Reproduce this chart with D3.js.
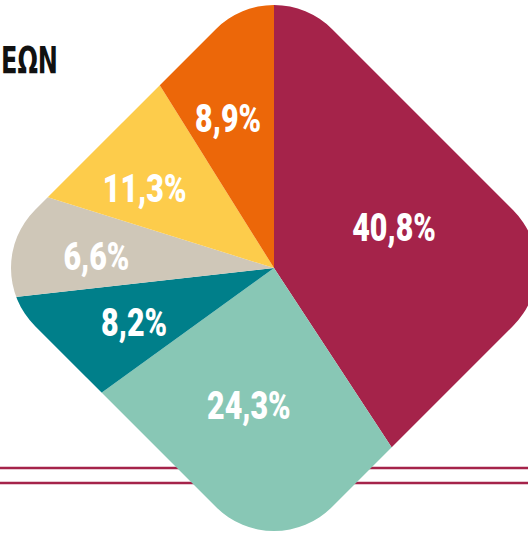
<!DOCTYPE html>
<html>
<head>
<meta charset="utf-8">
<script src="https://cdn.jsdelivr.net/npm/d3@7"></script>
<style>
  html, body { margin: 0; padding: 0; background: #fff; }
  svg { display: block; }
</style>
</head>
<body>
<div id="chart"></div>
<script>
// data
const categories = ["A", "B", "C", "D", "E", "F"];
const shares = [40.8, 24.3, 8.2, 6.6, 11.3, 8.9];
const labels = ["40,8%", "24,3%", "8,2%", "6,6%", "11,3%", "8,9%"];
const colors = ["#A5234A", "#88C7B5", "#007F8A", "#CFC7B8", "#FDCC4B", "#EC6709"];

// label placement per slice (layout only): distance from centre, angle nudge in degrees
const labelRadius = [127, 139, 150, 178, 152, 157];
const labelNudge = [-2.4, 0, 0, -1.6, -6, -1];

const width = 528;
const height = 534;
const cx = 274, cy = 268;
const half = 210;     // half side of the rounded square
const corner = 82;

const svg = d3.select("#chart")
  .append("svg")
  .attr("width", width)
  .attr("height", height);

// the two rules behind the pie
svg.selectAll("line.rule")
  .data([468, 483])
  .enter()
  .append("line")
  .attr("class", "rule")
  .attr("x1", 0)
  .attr("x2", width)
  .attr("y1", d => d)
  .attr("y2", d => d)
  .attr("stroke", "#A5234A")
  .attr("stroke-width", 2.5);

// title fragment at the left edge
svg.append("text")
  .attr("x", 1)
  .attr("y", 73)
  .attr("font-family", "'DejaVu Sans', sans-serif")
  .attr("font-weight", "bold")
  .attr("font-size", 37)
  .attr("fill", "#111")
  .attr("textLength", 57)
  .attr("lengthAdjust", "spacingAndGlyphs")
  .text("ΕΩΝ");

// rounded square turned 45 degrees used as clip
const defs = svg.append("defs");
defs.append("clipPath")
  .attr("id", "diamond")
  .append("rect")
  .attr("x", -half)
  .attr("y", -half)
  .attr("width", half * 2)
  .attr("height", half * 2)
  .attr("rx", corner)
  .attr("ry", corner)
  .attr("transform", "rotate(45)");

const g = svg.append("g")
  .attr("transform", "translate(" + cx + "," + cy + ")");

const pie = d3.pie().sort(null).value(d => d);
const arcs = pie(shares);

const arc = d3.arc()
  .innerRadius(0)
  .outerRadius(420);

g.append("g")
  .attr("clip-path", "url(#diamond)")
  .selectAll("path")
  .data(arcs)
  .enter()
  .append("path")
  .attr("d", arc)
  .attr("fill", (d, i) => colors[i]);

// labels
g.selectAll("text.lbl")
  .data(arcs)
  .enter()
  .append("text")
  .attr("class", "lbl")
  .attr("transform", (d, i) => {
    const a = (d.startAngle + d.endAngle) / 2 + labelNudge[i] * Math.PI / 180;
    const r = labelRadius[i];
    const x = Math.sin(a) * r;
    const y = -Math.cos(a) * r;
    return "translate(" + x + "," + y + ") scale(0.78,1)";
  })
  .attr("text-anchor", "middle")
  .attr("dy", "0.36em")
  .attr("font-family", "Roboto, sans-serif")
  .attr("font-weight", 900)
  .attr("font-size", 39)
  .attr("fill", "#fff")
  .text((d, i) => labels[i]);
</script>
</body>
</html>
